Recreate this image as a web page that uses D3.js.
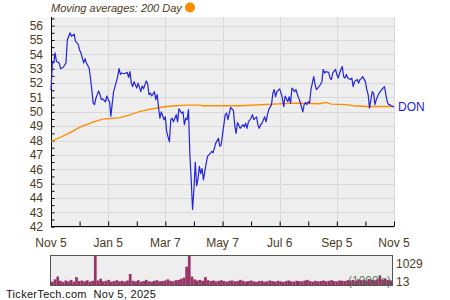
<!DOCTYPE html>
<html>
<head>
<meta charset="utf-8">
<script src="https://cdn.jsdelivr.net/npm/d3@7"></script>
<style>
	body { margin: 0; background: #fff; }
	svg { display: block; font-family: "Liberation Sans", Arial, sans-serif; }
</style>
</head>
<body>
<svg width="450" height="300"></svg>
<script>
// trading day index (0..252, Nov 5 2024 - Nov 5 2025) and closing price
var price = [
	[0,51.5],[1,53.5],[2,53.4],[3,54.1],[4,53.5],[6,53.4],[7,53.0],[9,53.1],[11,53.4],[12,55.0],
	[14,55.5],[15,55.25],[17,55.4],[18,54.9],[20,54.7],[21,54.3],[22,54.1],[24,53.4],[25,53.7],[26,53.4],
	[28,53.05],[29,52.35],[30,51.5],[31,50.6],[32,50.5],[33,50.95],[35,51.45],[36,51.2],[37,50.85],[38,50.9],
	[40,50.7],[41,51.1],[42,50.85],[43,50.7],[44,49.7],[45,50.6],[46,51.4],[48,52.1],[49,52.45],[50,53.0],
	[51,52.6],[52,52.7],[54,52.65],[56,52.75],[57,52.4],[58,52.8],[59,52.0],[60,51.75],[61,52.1],[63,51.65],
	[64,52.0],[66,51.4],[67,51.8],[68,51.6],[70,52.15],[71,51.95],[72,51.2],[73,51.3],[74,51.1],[76,51.4],
	[77,50.85],[78,51.2],[79,50.3],[80,49.55],[81,50.0],[83,49.45],[84,49.65],[85,48.6],[87,47.9],[88,49.45],
	[89,49.55],[90,49.3],[92,49.8],[93,49.3],[94,50.2],[96,49.9],[97,50.0],[98,49.1],[99,49.55],[100,49.45],
	[101,50.15],[102,47.1],[103,45.25],[104,43.2],[105,44.55],[106,46.5],[107,44.85],[108,45.35],[109,46.2],[110,45.7],
	[111,46.05],[112,45.25],[113,45.85],[114,46.4],[115,46.9],[117,47.1],[118,47.25],[119,47.15],[120,47.45],[121,47.8],
	[123,48.15],[124,47.6],[125,47.7],[126,48.4],[128,49.8],[129,49.9],[130,49.45],[131,49.9],[132,50.3],[134,50.1],
	[135,49.05],[136,48.5],[137,49.25],[139,48.85],[141,49.1],[142,48.95],[143,49.2],[144,48.85],[145,49.3],[147,49.55],
	[148,49.8],[149,49.45],[151,49.65],[152,49.1],[153,48.85],[154,49.1],[155,49.2],[157,49.65],[158,49.3],[159,49.8],
	[160,50.15],[162,50.5],[163,51.3],[164,51.55],[165,51.05],[166,51.4],[168,51.6],[169,51.3],[170,50.95],[171,50.35],
	[172,51.1],[174,50.7],[175,51.05],[176,50.6],[177,51.65],[179,51.4],[180,51.55],[181,51.2],[182,50.95],[183,50.7],
	[185,50.0],[186,50.5],[187,50.65],[188,50.5],[189,50.7],[190,50.6],[191,51.55],[193,52.45],[194,51.9],[195,51.55],
	[196,51.65],[198,51.9],[199,52.1],[200,52.95],[201,52.7],[202,52.8],[204,52.75],[205,52.35],[206,52.25],[207,52.7],
	[209,52.95],[210,52.6],[211,52.35],[212,52.7],[214,53.15],[215,52.45],[216,52.35],[217,52.6],[218,52.35],[220,52.25],
	[221,52.35],[222,51.75],[223,52.1],[225,52.25],[226,52.0],[227,52.25],[228,52.3],[229,52.45],[231,52.1],[232,51.55],
	[233,51.2],[234,50.25],[235,50.85],[236,51.4],[237,51.3],[238,50.5],[239,50.85],[241,51.3],[242,51.4],[243,51.55],
	[244,51.65],[245,51.75],[247,50.7],[248,50.5],[249,50.5],[250,50.4],[252,50.35]
];

// 200 day moving average
var ma200 = [
	[0,47.93],[13,48.5],[22,48.97],[32,49.32],[38,49.49],[51,49.6],[58,49.79],[65,50.02],[73,50.19],[80,50.3],
	[85,50.37],[92,50.42],[99,50.46],[109,50.46],[112,50.42],[139,50.42],[163,50.53],[180,50.6],[197,50.56],[202,50.65],
	[206,50.53],[217,50.5],[222,50.42],[232,50.37],[252,50.37]
];

// volume in 1000's, one value per two trading days
var volume = [
	120,200,300,150,110,160,130,180,120,280,140,160,130,170,120,150,1029,160,220,130,
	150,180,120,140,170,130,150,120,160,390,150,130,170,120,140,180,130,120,150,170,
	130,140,160,200,150,130,170,180,220,260,650,1029,300,200,160,180,150,280,170,140,
	160,130,150,170,140,120,150,160,130,140,180,150,120,140,160,130,110,140,150,120,
	130,160,140,120,150,130,110,140,160,130,120,150,140,130,160,180,140,120,150,130,
	140,160,130,150,170,140,130,160,150,140,170,160,180,150,200,170,190,160,210,180,
	170,200,340,190,220,180,160
];

var xTickDays = [0, 42, 84, 126, 168, 210, 252];
var xTickLabels = ["Nov 5", "Jan 5", "Mar 7", "May 7", "Jul 6", "Sep 5", "Nov 5"];
var yTicks = d3.range(42, 57);
var volLabels = ["1029", "13"];

var svg = d3.select("svg");
var txt = "#4a3b1a";

var x = d3.scaleLinear().domain([0, 252]).range([51, 394]);
var y = d3.scaleLinear().domain([42, 56.6]).range([226.7, 17]);

// plot background + grid
svg.append("rect").attr("x", 51).attr("y", 17).attr("width", 343).attr("height", 209.7).attr("fill", "#eeeeee");

svg.append("g").selectAll("line").data(yTicks).enter().append("line")
	.attr("x1", 51).attr("x2", 394)
	.attr("y1", function(d) { return Math.round(y(d)) + 0.5; })
	.attr("y2", function(d) { return Math.round(y(d)) + 0.5; })
	.attr("stroke", "#d8d8d8");

svg.append("g").selectAll("line").data(xTickDays.slice(1)).enter().append("line")
	.attr("y1", 17).attr("y2", 227)
	.attr("x1", function(d) { return Math.round(x(d)) + 0.5; })
	.attr("x2", function(d) { return Math.round(x(d)) + 0.5; })
	.attr("stroke", "#d8d8d8");

// axes
var yAxis = svg.append("g").attr("transform", "translate(51.5,0)")
	.call(d3.axisRight(y).tickValues(d3.range(42, 56.6, 0.5)).tickSize(3).tickFormat(""));
yAxis.select(".domain").attr("d", "M0,17V227");

svg.append("g").selectAll("text").data(yTicks).enter().append("text")
	.attr("x", 43).attr("y", function(d) { return y(d); }).attr("dy", "0.36em")
	.attr("text-anchor", "end").attr("font-size", 12).attr("fill", txt)
	.text(function(d) { return d; });

var minorDays = [21, 63, 105, 147, 189, 231];
var xAxis = svg.append("g").attr("transform", "translate(0,226.5)")
	.call(d3.axisTop(x).tickValues(xTickDays.concat(minorDays)).tickSize(5).tickFormat(""));
xAxis.select(".domain").attr("d", "M51,0H394");

svg.append("g").selectAll("text").data(xTickDays).enter().append("text")
	.attr("x", function(d) { return x(d); }).attr("y", 247)
	.attr("text-anchor", "middle").attr("font-size", 12).attr("fill", txt)
	.text(function(d, i) { return xTickLabels[i]; });

// lines
var line = d3.line().x(function(d) { return x(d[0]); }).y(function(d) { return y(d[1]); });

svg.append("path").datum(ma200).attr("d", line)
	.attr("fill", "none").attr("stroke", "#ff8c00").attr("stroke-width", 1.3);

svg.append("path").datum(price).attr("d", line)
	.attr("fill", "none").attr("stroke", "#2323dc").attr("stroke-width", 1.2).attr("stroke-linejoin", "round");

svg.append("text").attr("x", 398).attr("y", y(50.35)).attr("dy", "0.36em")
	.attr("font-size", 12).attr("fill", "#1a1aee").text("DON");

// header
svg.append("text").attr("x", 51).attr("y", 12).attr("font-size", 11).attr("font-style", "italic")
	.attr("fill", txt).text("Moving averages: 200 Day");
svg.append("circle").attr("cx", 190).attr("cy", 7.5).attr("r", 5).attr("fill", "#ff8c00");

// volume panel
var vx = d3.scaleBand().domain(d3.range(volume.length)).range([51, 392]).padding(0);
var vy = d3.scaleLinear().domain([0, 1029]).range([285, 256]);

svg.append("rect").attr("x", 50.5).attr("y", 255.5).attr("width", 342).attr("height", 30)
	.attr("fill", "#eeeeee").attr("stroke", "#555").attr("stroke-width", 1);

svg.append("g").selectAll("rect").data(volume).enter().append("rect")
	.attr("x", function(d, i) { return vx(i); })
	.attr("width", vx.bandwidth())
	.attr("y", function(d) { return vy(d); })
	.attr("height", function(d) { return 285 - vy(d); })
	.attr("fill", "#993366");

svg.append("text").attr("x", 391).attr("y", 285).attr("text-anchor", "end")
	.attr("font-size", 12).attr("fill", "#3d6b3d").attr("fill-opacity", 0.85).text("(1000's)");

svg.append("g").selectAll("text").data(volLabels).enter().append("text")
	.attr("x", 396).attr("y", function(d, i) { return i == 0 ? 267.5 : 286; })
	.attr("font-size", 12).attr("fill", txt)
	.text(function(d) { return d; });

// footer
svg.append("text").attr("x", 6).attr("y", 298).attr("font-size", 11).attr("fill", "#111")
	.attr("letter-spacing", 0.3).attr("xml:space", "preserve").text("TickerTech.com  Nov 5, 2025");
</script>
</body>
</html>
